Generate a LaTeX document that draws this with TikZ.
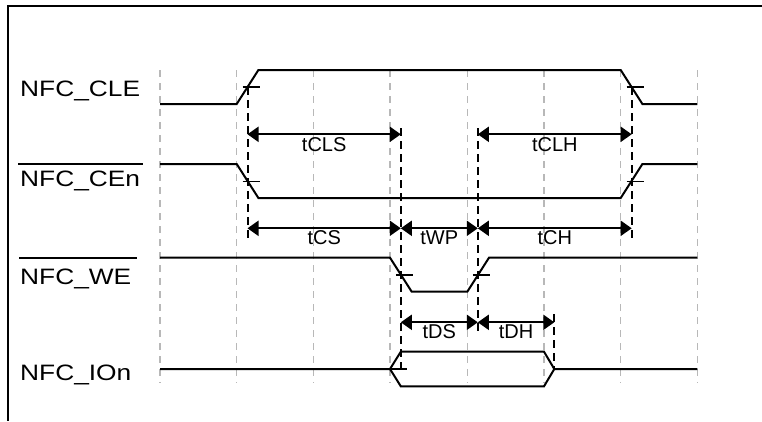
\documentclass[tikz,border=0pt]{standalone}
\usepackage{fontspec}
\setmainfont{Liberation Sans}
\newfontfamily\sigfont[FakeStretch=1.18]{Liberation Sans}
\usetikzlibrary{arrows.meta}
\begin{document}
\begin{tikzpicture}[x=1pt,y=-1pt,
  sigln/.style={line width=2pt, line join=miter},
  gridln/.style={black!28, line width=1.3pt, dash pattern=on 7pt off 6pt},
  refln/.style={line width=2pt, dash pattern=on 8pt off 5pt},
  tickln/.style={line width=1.8pt},
  dimln/.style={line width=2pt, {Triangle[length=11pt,width=15pt]}-{Triangle[length=11pt,width=15pt]}},
  siglabel/.style={anchor=base west, inner sep=0pt, font=\sigfont\fontsize{22.3}{26}\selectfont},
  tlabel/.style={anchor=base, inner sep=0pt, font=\fontsize{20}{24}\selectfont}]
\useasboundingbox (0,0) rectangle (762,421);
% frame
\draw[line width=1.6pt] (762,6) -- (8,6) -- (8,421);
% grid
\foreach \x in {160,236.7,313.3,390,467.3,544,620.7,697.3}
  \draw[gridln] (\x,70) -- (\x,383);
% signal names
\node[siglabel] (lcle) at (20,96) {NFC\_CLE};
\node[siglabel] (lcen) at (20,186) {NFC\_CEn};
\node[siglabel] (lwe) at (20,284) {NFC\_WE};
\node[siglabel] (lion) at (20,380) {NFC\_IOn};
\draw[line width=2pt] (18.3,164) -- (142.7,164);
\draw[line width=2pt] (19.3,257.7) -- (136.7,257.7);
% waveforms
\draw[sigln] (160,104) -- (236.7,104) -- (258.4,70) -- (620.7,70) -- (642.4,104) -- (697.3,104);
\draw[sigln] (160,164) -- (236.7,164) -- (258.4,198) -- (620.7,198) -- (642.4,164) -- (697.3,164);
\draw[sigln] (160,257.7) -- (390,257.7) -- (411.7,291.7) -- (467.3,291.7) -- (489,257.7) -- (697.3,257.7);
\draw[sigln] (160,369) -- (390,369) -- (400.8,351.7) -- (544,351.7) -- (554.3,369) -- (697.3,369);
\draw[sigln] (390,369) -- (400.8,386.3) -- (544,386.3) -- (554.3,369);
% key points
\coordinate (m1) at (247.5,87);
\coordinate (m2) at (631.7,87);
\coordinate (n1) at (247.5,181.5);
\coordinate (n2) at (631.7,181.5);
\coordinate (w1) at (400.8,275);
\coordinate (w2) at (477.8,275);
\coordinate (i1) at (400.8,369);
\coordinate (i2) at (554.3,369);
% ticks
\foreach \p in {m1,m2,n1,n2,w1,w2}
  \draw[tickln] ([xshift=-5pt]\p) -- ([xshift=12.5pt]\p);
\draw[tickln] (390,369) -- (406.7,369);
% reference dashed lines
\draw[refln] (m1) -- (247.5,238);
\draw[refln] (400.8,128) -- (400.8,370);
\draw[refln] (477.8,128) -- (477.8,332);
\draw[refln] (m2) -- (631.7,238);
\draw[refln] (554.3,314) -- (i2);
% dimension coordinates
\coordinate (clsL) at (247.5,134.3);
\coordinate (clsR) at (400.8,134.3);
\coordinate (clhL) at (477.8,134.3);
\coordinate (clhR) at (631.7,134.3);
\coordinate (csL) at (247.5,228.3);
\coordinate (csR) at (400.8,228.3);
\coordinate (chL) at (477.8,228.3);
\coordinate (chR) at (631.7,228.3);
\coordinate (dsL) at (400.8,322.3);
\coordinate (dsR) at (477.8,322.3);
\coordinate (dhR) at (554.3,322.3);
% dimension arrows
\draw[dimln] (clsL) -- (clsR);
\draw[dimln] (clhL) -- (clhR);
\draw[dimln] (csL) -- (csR);
\draw[dimln] (csR) -- (chL);
\draw[dimln] (chL) -- (chR);
\draw[dimln] (dsL) -- (dsR);
\draw[dimln] (dsR) -- (dhR);
% timing labels
\node[tlabel] (tcls) at (324.2,151) {tCLS};
\node[tlabel] (tclh) at (554.8,151) {tCLH};
\node[tlabel] (tcs) at (324.2,244.5) {tCS};
\node[tlabel] (twp) at (439.3,244.5) {tWP};
\node[tlabel] (tch) at (554.8,244.5) {tCH};
\node[tlabel] (tds) at (439.3,338.3) {tDS};
\node[tlabel] (tdh) at (516,338.3) {tDH};
\end{tikzpicture}
\end{document}
